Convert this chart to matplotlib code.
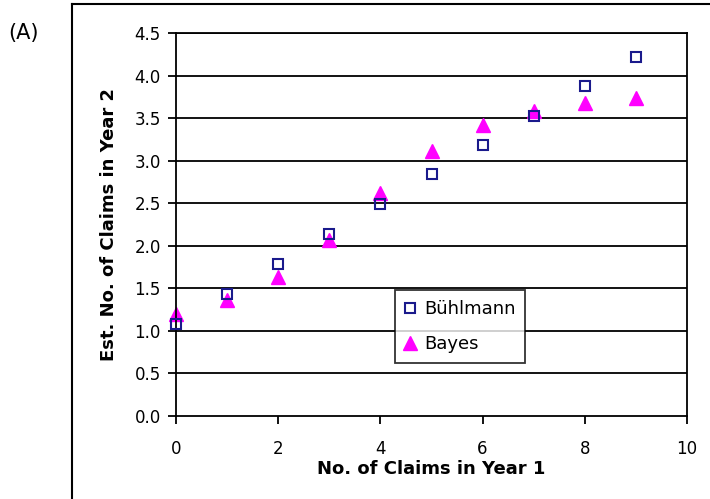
import matplotlib
matplotlib.use("Agg")
import matplotlib.pyplot as plt
from matplotlib.lines import Line2D

claims_year1 = [0, 1, 2, 3, 4, 5, 6, 7, 8, 9]
buhlmann = [1.08, 1.43, 1.79, 2.14, 2.49, 2.84, 3.18, 3.53, 3.88, 4.22]
bayes = [1.20, 1.36, 1.63, 2.07, 2.62, 3.11, 3.42, 3.58, 3.68, 3.74]
x_ticks = [0, 2, 4, 6, 8, 10]
y_ticks = [0.0, 0.5, 1.0, 1.5, 2.0, 2.5, 3.0, 3.5, 4.0, 4.5]

W, H = 710, 499
fig = plt.figure(figsize=(W / 100, H / 100), dpi=100)
plt.rcParams['font.family'] = ['DejaVu Sans']

x0, x1, y0, y1 = 176, 687, 416, 33
ax = fig.add_axes([x0 / W, 1 - y0 / H, (x1 - x0) / W, (y0 - y1) / H])

for v in y_ticks[1:]:
    ax.axhline(v, color='black', lw=1.3, zorder=1)

ax.plot(claims_year1, buhlmann, linestyle='none', marker='s', markersize=7.5,
        markerfacecolor='none', markeredgecolor='#1a1a8c', markeredgewidth=1.5,
        label='Bühlmann', zorder=3, clip_on=False)
ax.plot(claims_year1, bayes, linestyle='none', marker='^', markersize=9.5,
        color='#ff00ff', label='Bayes', zorder=2, clip_on=False)

ax.set_xlim(0, 10)
ax.set_ylim(0, 4.5)
ax.set_xticks(x_ticks)
ax.set_yticks(y_ticks)
ax.set_yticklabels([f"{v:.1f}" for v in y_ticks])
ax.tick_params(direction='out', length=6, width=1.3, labelsize=12, colors='black', pad=5)
ax.tick_params(axis='x', pad=11)
for s in ax.spines.values():
    s.set_linewidth(1.3)
    s.set_color('black')

ax.set_xlabel('No. of Claims in Year 1', fontsize=13, fontweight='bold', labelpad=2)
ax.set_ylabel('Est. No. of Claims in Year 2', fontsize=13, fontweight='bold', labelpad=12)

leg = ax.legend(loc='upper left', bbox_to_anchor=((395 - x0) / (x1 - x0), (y0 - 290) / (y0 - y1)),
                frameon=True, fancybox=False, edgecolor='black', fontsize=13,
                handlelength=0.6, handletextpad=0.45, borderpad=0.55, labelspacing=0.95,
                borderaxespad=0)
leg.get_frame().set_linewidth(1.3)
leg.set_zorder(5)

fig.add_artist(Line2D([72 / W, 72 / W], [0, 1 - 4 / H], color='black', lw=1.5, transform=fig.transFigure))
fig.add_artist(Line2D([72 / W, 1], [1 - 4 / H, 1 - 4 / H], color='black', lw=1.5, transform=fig.transFigure))

fig.text(8 / W, 1 - 33 / H, '(A)', fontsize=15, va='center', ha='left')

fig.savefig('out.png', dpi=100)
